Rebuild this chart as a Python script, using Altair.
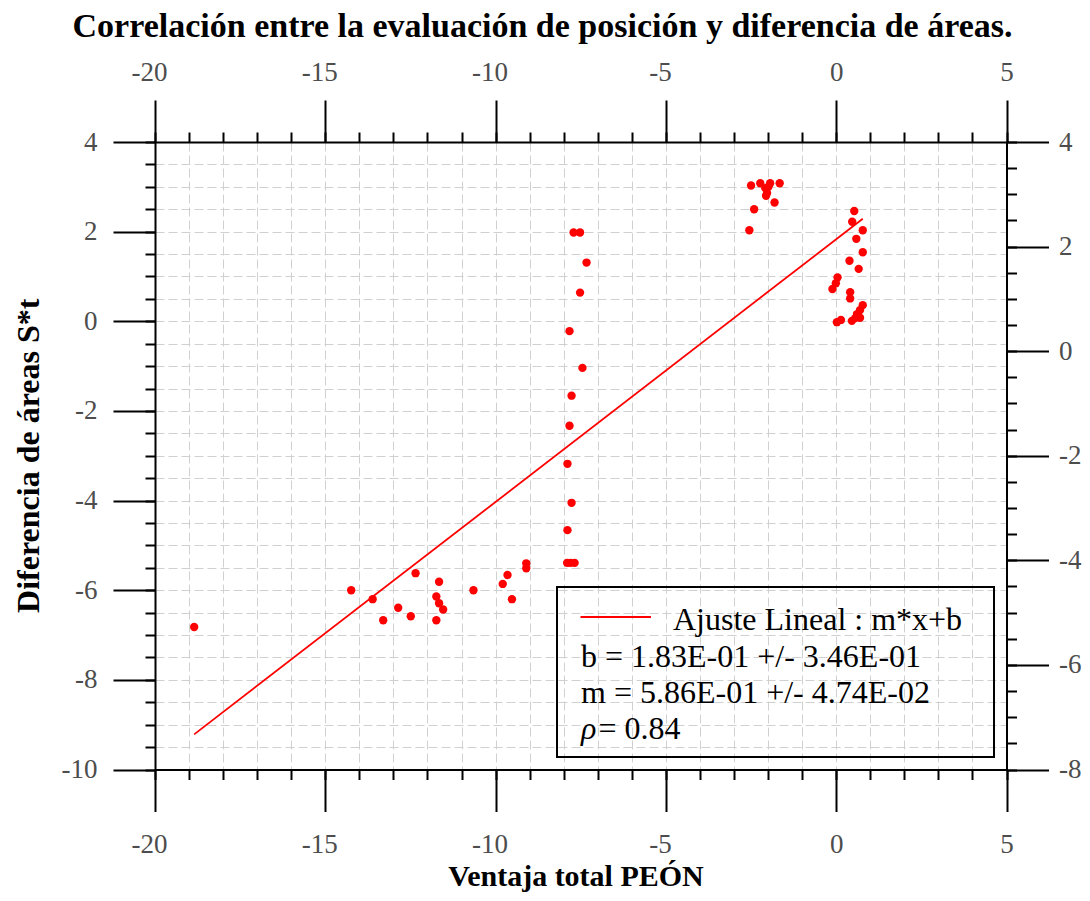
import altair as alt
import pandas as pd

# ---------------- data ----------------
title_text = "Correlación entre la evaluación de posición y diferencia de áreas."
x_title = "Ventaja total PEÓN"
y_title = "Diferencia de áreas S*t"

x_vals = [-18.85, -14.24, -13.61, -13.30, -12.86, -12.49, -12.35, -11.66, -11.74, -11.66,
          -11.54, -11.74, -10.65, -9.79, -9.65, -9.52, -9.10, -9.10,
          -7.90, -7.80, -7.68, -7.89, -7.77, -7.89, -7.83, -7.77, -7.45, -7.83, -7.52, -7.33,
          -7.71, -7.52,
          -2.50, -2.23, -1.94, -1.66, -2.08, -1.99, -2.03, -2.06, -1.81, -2.41, -2.55,
          0.53, 0.47, 0.78, 0.59, 0.78, 0.39, 0.66, 0.04, -0.01, -0.11, 0.41, 0.41,
          0.78, 0.70, 0.61, 0.56, 0.46, 0.70, 0.14, 0.02]
y_vals = [-6.82, -6.00, -6.20, -6.67, -6.39, -6.58, -5.62, -5.81, -6.14, -6.29,
          -6.43, -6.67, -6.00, -5.86, -5.66, -6.20, -5.40, -5.51,
          -5.39, -5.39, -5.39, -4.66, -4.05, -3.18, -2.33, -1.66, -1.04, -0.22, 0.64, 1.31,
          1.98, 1.98,
          3.03, 3.08, 3.08, 3.08, 2.97, 3.00, 2.86, 2.80, 2.65, 2.50, 2.03,
          2.46, 2.22, 2.03, 1.84, 1.54, 1.35, 1.17, 0.98, 0.85, 0.72, 0.65, 0.51,
          0.36, 0.25, 0.16, 0.07, 0.01, 0.08, 0.03, -0.02]

fit_m = 0.586
fit_b = 1.83

legend_title = "Ajuste Lineal : m*x+b"
legend_b = "b = 1.83E-01 +/- 3.46E-01"
legend_m = "m = 5.86E-01 +/- 4.74E-02"
legend_rho_symbol = "ρ"
legend_rho_value = "= 0.84"

x_domain = [-20, 5]
y_left_domain = [-10, 4]
y_right_domain = [-8, 4]
x_major = [-20, -15, -10, -5, 0, 5]
x_minor = list(range(-20, 6))
y_left_major = [4, 2, 0, -2, -4, -6, -8, -10]
y_left_minor = [v / 2 for v in range(-20, 9)]
y_right_major = [4, 2, 0, -2, -4, -6, -8]
y_right_minor = [v / 2 for v in range(-16, 9)]

# ---------------- tables ----------------
pts = pd.DataFrame({"x": x_vals, "y": y_vals})
x_lo, x_hi = min(x_vals), max(x_vals)
fit = pd.DataFrame({"x": [x_lo, x_hi], "y": [fit_m * x_lo + fit_b, fit_m * x_hi + fit_b]})
frame_right = pd.DataFrame({"x": x_domain, "y": y_right_domain})
one = pd.DataFrame({"a": [0]})

FONT = "Liberation Serif"
LABEL_COLOR = "#4d4d4d"
GRID_COLOR = "#d0d0d0"
W, H = 851.5, 627.5

neg_shift = {"condition": {"test": "datum.value < 0", "value": -6}, "value": 0}

common_major = dict(tickSize=42, tickWidth=2, tickColor="black", domain=True, domainWidth=2,
                    domainColor="black", grid=False, labelFont=FONT, labelFontSize=27,
                    labelColor=LABEL_COLOR, labelExpr="toString(datum.value)", title=None,
                    labelFlush=False, labelOverlap=False)
common_minor = dict(tickSize=10, tickWidth=2, tickColor="black", domain=False, labels=False,
                    title=None)

ax_x_bottom_major = alt.Axis(orient="bottom", values=x_major, labelPadding=40.5,
                             labelBaseline="alphabetic", labelOffset=neg_shift, **common_major)
ax_x_top_major = alt.Axis(orient="top", values=x_major, labelPadding=20,
                          labelBaseline="alphabetic", labelOffset=neg_shift, **common_major)
ax_x_bottom_minor = alt.Axis(orient="bottom", values=x_minor, grid=True, gridColor=GRID_COLOR,
                             gridDash=[9, 4], gridWidth=1, **common_minor)
ax_x_top_minor = alt.Axis(orient="top", values=x_minor, grid=False, **common_minor)

ax_y_left_major = alt.Axis(orient="left", values=y_left_major, labelPadding=16,
                           labelBaseline="middle", **common_major)
ax_y_left_minor = alt.Axis(orient="left", values=y_left_minor, grid=True, gridColor=GRID_COLOR,
                           gridDash=[9, 4], gridWidth=1, **common_minor)
ax_y_right_major = alt.Axis(orient="right", values=y_right_major, labelPadding=10,
                            labelBaseline="middle", labelAlign="left", **common_major)
ax_y_right_minor = alt.Axis(orient="right", values=y_right_minor, grid=False, **common_minor)

xs = alt.Scale(domain=x_domain, nice=False, zero=False)
yls = alt.Scale(domain=y_left_domain, nice=False, zero=False)
yrs = alt.Scale(domain=y_right_domain, nice=False, zero=False)

line_layer = alt.Chart(fit).mark_line(color="#ff0000", strokeWidth=1.8).encode(
    x=alt.X("x:Q", scale=xs, axis=ax_x_bottom_minor),
    y=alt.Y("y:Q", scale=yls, axis=ax_y_left_minor),
)
point_layer = alt.Chart(pts).mark_circle(color="#ff0000", size=70, opacity=1).encode(
    x=alt.X("x:Q", scale=xs, axis=ax_x_bottom_major),
    y=alt.Y("y:Q", scale=yls, axis=ax_y_left_major),
)
right_major_layer = alt.Chart(frame_right).mark_point(opacity=0).encode(
    x=alt.X("x:Q", scale=xs, axis=ax_x_top_major),
    y=alt.Y("y:Q", scale=yrs, axis=ax_y_right_major),
)
right_minor_layer = alt.Chart(frame_right).mark_point(opacity=0).encode(
    x=alt.X("x:Q", scale=xs, axis=ax_x_top_minor),
    y=alt.Y("y:Q", scale=yrs, axis=ax_y_right_minor),
)

# legend box (positions relative to plot area origin)
legend_box = alt.Chart(one).mark_rect(fillOpacity=0, stroke="black", strokeWidth=2).encode(
    x=alt.value(402), x2=alt.value(839), y=alt.value(445), y2=alt.value(615)
)
legend_line = alt.Chart(one).mark_rule(color="#ff0000", strokeWidth=1.8).encode(
    x=alt.value(425.5), x2=alt.value(496), y=alt.value(475)
)


def txt(text, x, y, size, align="left", weight="normal", style="normal", angle=0, color="black"):
    kw = dict(text=text, font=FONT, fontSize=size, align=align, baseline="alphabetic",
              fontWeight=weight, fontStyle=style, color=color)
    if angle:
        kw["angle"] = angle
    return alt.Chart(one).mark_text(**kw).encode(x=alt.value(x), y=alt.value(y))


legend_texts = [
    txt(legend_title, 518, 488, 32),
    txt(legend_b, 426, 524.7, 32),
    txt(legend_m, 426, 560.7, 32),
    txt(legend_rho_symbol, 426, 597.3, 32, style="italic"),
    txt(legend_rho_value, 443.5, 597.3, 32),
]

title_layer = txt(title_text, 387.5, -105, 34, align="center", weight="bold")
xtitle_layer = txt(x_title, 421, 743.5, 30, align="center", weight="bold")
ytitle_layer = txt(y_title, -116, H / 2, 32, align="center", weight="bold", angle=270)

chart = alt.layer(
    line_layer, point_layer, right_major_layer, right_minor_layer,
    legend_box, legend_line, *legend_texts, title_layer, xtitle_layer, ytitle_layer
).resolve_scale(y="independent").resolve_axis(x="independent", y="independent").properties(
    width=W, height=H,
    autosize=alt.AutoSizeParams(type="none"),
    padding={"left": 147, "top": 134, "right": 75.5, "bottom": 123},
    background="white",
).configure_view(strokeWidth=0)

chart.save("out.html", embed_options={"renderer": "svg", "actions": False})
